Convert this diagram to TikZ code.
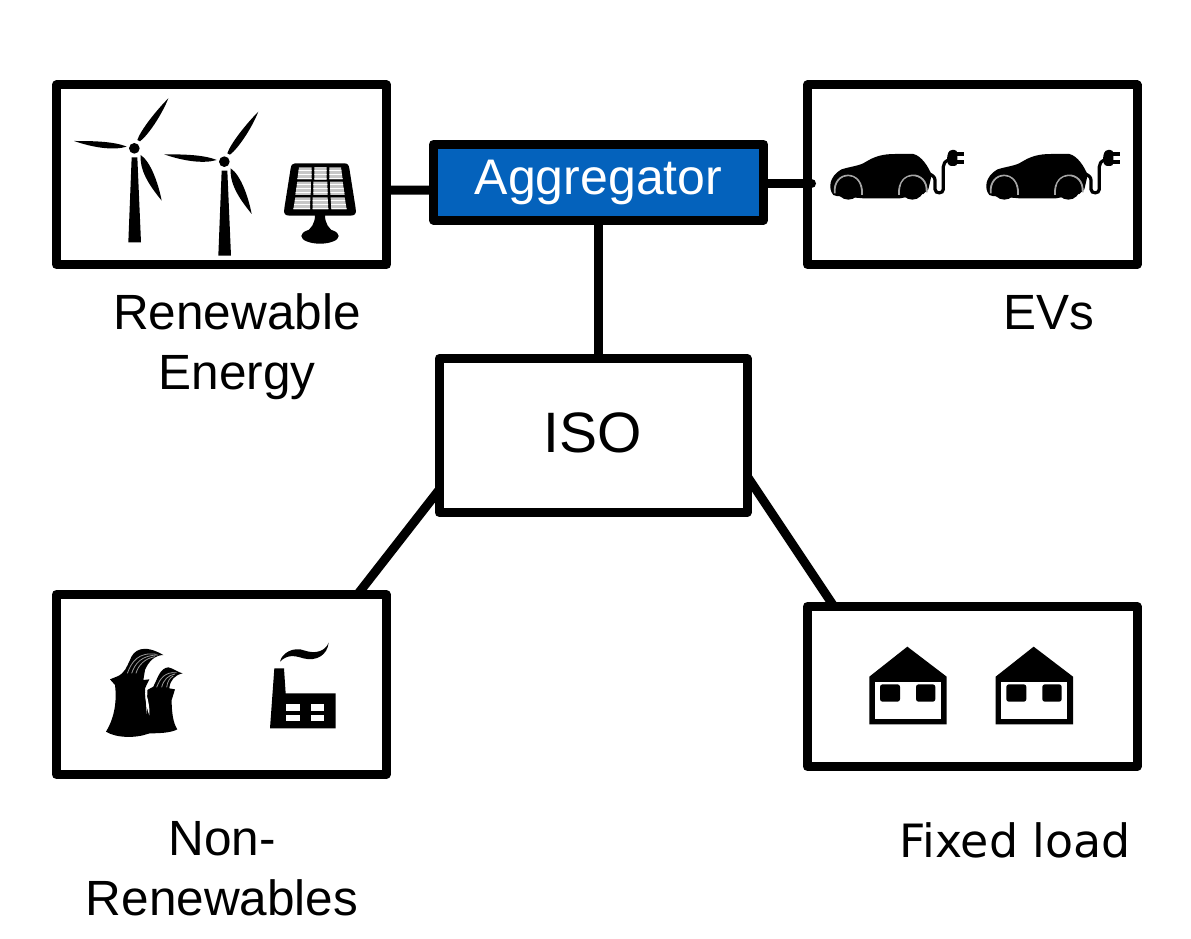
\documentclass[tikz,border=0pt]{standalone}
\usepackage{fontspec}
\setmainfont{Liberation Sans}
\newfontfamily\dejavu{DejaVu Sans}
\usetikzlibrary{calc}
\definecolor{aggblue}{HTML}{0462BC}
\newcommand{\iconbegin}[2]{\begin{scope}[shift={(#1,#2)},x=0.33333pt,y=-0.33333pt]}
\newcommand{\turbineicon}{%
  \fill (262,180) .. controls (272,150) and (320,90) .. (355,55) .. controls (335,105) and (295,165) .. (270,184) -- cycle;
  \fill (72,183) .. controls (120,183) and (190,183) .. (230,200) .. controls (190,212) and (130,203) .. (72,183) -- cycle;
  \fill (272,225) .. controls (302,245) and (325,310) .. (335,362) .. controls (310,330) and (268,280) .. (272,225) -- cycle;
  \fill (253,205) circle [radius=16];
  \fill (245,232) -- (262,232) -- (273,487) -- (235,487) -- cycle;}
\newcommand{\solarcell}[1]{%
  \begin{scope}
    \clip #1;
    \fill[black!22] (700,250) rectangle (920,400);
    \foreach \yy in {272,284,296,314,326,338,362,374,386}
      \draw[white,line width=0.7pt] (700,\yy) -- (920,\yy);
  \end{scope}}
\newcommand{\evicon}{%
  \fill (100,195) .. controls (85,178) and (85,140) .. (125,118) .. controls (150,110) and (180,107) .. (195,97) .. controls (225,78) and (250,72) .. (285,72) -- (340,72) .. controls (365,78) and (385,110) .. (395,135) -- (385,178) -- (370,192) -- (300,205) -- (190,205) -- (110,198) -- cycle;
  \draw[black!35,line width=1.8pt] (104,190) .. controls (98,118) and (192,118) .. (186,195);
  \draw[black!35,line width=1.8pt] (297,195) .. controls (291,118) and (385,118) .. (380,187);
  \fill (145,174) circle [radius=35];
  \fill (337,174) circle [radius=35];
  \draw[line width=3.2pt,line cap=round] (385,130) .. controls (395,135) and (405,140) .. (405,150) -- (405,178) .. controls (405,192) and (430,192) .. (430,178) -- (430,110) .. controls (430,100) and (435,95) .. (445,90);
  \fill[rounded corners=3pt] (440,85) -- (447,60) -- (472,60) -- (472,108) -- (445,108) -- cycle;
  \fill (470,65) rectangle (493,78);
  \fill (470,90) rectangle (493,103);}
\newcommand{\houseicon}{%
  \fill[line join=round] (172,20) -- (290,110) -- (290,253) -- (58,253) -- (58,110) -- cycle;
  \fill[white] (75,125) rectangle (273,238);
  \fill[rounded corners=2.5pt] (90,133) rectangle (150,185);
  \fill[rounded corners=2.5pt] (198,133) rectangle (256,185);}
\tikzset{
  boxnode/.style={draw=black,fill=white,line width=9pt,line join=round,inner sep=0pt,outer sep=0pt},
  link/.style={draw=black,line width=9pt},
  label/.style={inner sep=0pt,outer sep=0pt,align=center,font=\fontsize{49.5}{60}\selectfont}
}
\begin{document}
\begin{tikzpicture}[x=1pt,y=-1pt]
\useasboundingbox (0,0) rectangle (1191,939);
\fill[white] (0,0) rectangle (1191,939);

\coordinate (isoTop) at (598,358.5);

\node[boxnode,minimum width=330pt,minimum height=179.5pt] (ren) at (221.5,174.75) {};
\node[boxnode,minimum width=329.5pt,minimum height=179.5pt] (ev) at (972.25,174.75) {};
\node[boxnode,minimum width=329.5pt,minimum height=180pt] (nr) at (221.25,684.5) {};
\node[boxnode,minimum width=329.5pt,minimum height=160pt] (fx) at (972.25,686.5) {};

\node[boxnode,minimum width=308pt,minimum height=154pt,font=\fontsize{57}{60}\selectfont] (iso) at (593,435.5) {\raisebox{5pt}{ISO}};
\node[boxnode,fill=aggblue,text=white,minimum width=330pt,minimum height=75.5pt,font=\fontsize{50}{60}\selectfont] (agg) at (598.5,182.25) {\raisebox{1.5pt}{Aggregator}};

\draw[link] ($(agg.west)+(0,8)$) -- ($(ren.east)+(0,15.25)$);
\draw[link,line cap=round] ($(agg.east)+(0,1.25)$) -- ($(ev.west)+(4,8.75)$);
\draw[link] (agg.south -| isoTop) -- (isoTop);
\draw[link] ($(iso.west)+(0,54.5)$) -- ($(nr.north east)+(-28.5,0)$);
\draw[link] ($(iso.east)+(0,40.5)$) -- ($(fx.north west)+(26.5,0)$);

% wind turbines and solar panel
\iconbegin{50}{80}
  \turbineicon
  \begin{scope}[shift={(270,40)}]\turbineicon\end{scope}
  \fill (735,250) -- (883,250) .. controls (893,250) and (896,255) .. (898,265) -- (917,385) .. controls (920,402) and (915,407) .. (900,407) -- (720,407) .. controls (705,407) and (700,402) .. (703,385) -- (722,265) .. controls (724,255) and (727,250) .. (735,250) -- cycle;
  \solarcell{(747,262) -- (785,262) -- (785,298) -- (742,298) -- cycle}
  \solarcell{(793,262) -- (830,262) -- (830,298) -- (793,298) -- cycle}
  \solarcell{(838,262) -- (873,262) -- (878,298) -- (838,298) -- cycle}
  \solarcell{(742,305) -- (783,305) -- (782,345) -- (736,345) -- cycle}
  \solarcell{(790,305) -- (832,305) -- (833,345) -- (790,345) -- cycle}
  \solarcell{(840,305) -- (878,305) -- (884,345) -- (841,345) -- cycle}
  \solarcell{(736,352) -- (781,352) -- (780,388) -- (730,388) -- cycle}
  \solarcell{(788,352) -- (833,352) -- (835,388) -- (788,388) -- cycle}
  \solarcell{(842,352) -- (884,352) -- (890,388) -- (844,388) -- cycle}
  \fill (795,405) .. controls (795,430) and (785,445) .. (765,458) -- (855,458) .. controls (835,445) and (825,430) .. (825,405) -- cycle;
  \fill (810,468) ellipse [x radius=56, y radius=23];
\end{scope}

% electric cars
\iconbegin{800}{130}
  \evicon
  \begin{scope}[shift={(468,0)}]\evicon\end{scope}
\end{scope}

% power plants
\iconbegin{90}{630}
  \fill (60,148) -- (80,140) .. controls (105,130) and (110,110) .. (120,90) .. controls (130,60) and (160,40) .. (220,75) .. controls (195,75) and (175,95) .. (165,120) -- (160,150) -- (178,148) -- (165,175) -- (170,250) -- (178,310) .. controls (140,325) and (80,325) .. (48,305) .. controls (70,270) and (82,220) .. (75,165) -- cycle;
  \fill (172,180) -- (190,170) .. controls (205,140) and (210,115) .. (235,112) .. controls (250,115) and (265,128) .. (278,130) .. controls (255,135) and (240,150) .. (238,175) -- (255,178) -- (245,210) .. controls (245,250) and (250,280) .. (262,298) .. controls (240,310) and (200,310) .. (170,310) -- cycle;
  \fill[white] (166,180) .. controls (172,200) and (180,230) .. (178,256) .. controls (172,240) and (164,210) .. (166,180) -- cycle;
  \draw[black!40,line width=0.8pt] (112,130) .. controls (125,95) and (145,65) .. (200,73);
  \draw[black!40,line width=0.8pt] (125,130) .. controls (135,100) and (155,75) .. (205,75);
  \draw[black!40,line width=0.8pt] (138,130) .. controls (145,105) and (165,85) .. (195,80);
  \draw[black!40,line width=0.8pt] (200,172) .. controls (210,145) and (225,125) .. (260,128);
  \draw[black!40,line width=0.8pt] (215,172) .. controls (220,150) and (235,135) .. (255,132);
  \draw[black!40,line width=0.8pt] (230,172) .. controls (232,155) and (240,142) .. (250,138);
  \fill (553,115) -- (582,115) -- (587,190) -- (737,190) -- (737,295) -- (540,295) -- cycle;
  \fill[white] (588,222) rectangle (630,242);
  \fill[white] (662,222) rectangle (703,242);
  \fill[white] (588,255) rectangle (630,274);
  \fill[white] (662,255) rectangle (703,274);
  \fill (570,95) .. controls (575,70) and (610,48) .. (645,62) .. controls (675,72) and (705,65) .. (716,38) .. controls (712,75) and (680,95) .. (640,85) .. controls (610,75) and (590,75) .. (570,95) -- cycle;
\end{scope}

% houses
\iconbegin{850}{640}
  \houseicon
  \begin{scope}[shift={(379,0)}]\houseicon\end{scope}
\end{scope}

% captions
\node[label,anchor=north] (renlab) at (237,294) {Renewable\\Energy};
\node[label,anchor=base] (evlab) at (1049,329) {EVs};
\node[label,anchor=north] (nrlab) at (222,821) {Non-\\Renewables};
\node[inner sep=0pt,outer sep=0pt,anchor=base,font=\dejavu\fontsize{45.9}{50}\selectfont] (fxlab) at (1015,857) {Fixed load};
\end{tikzpicture}
\end{document}
